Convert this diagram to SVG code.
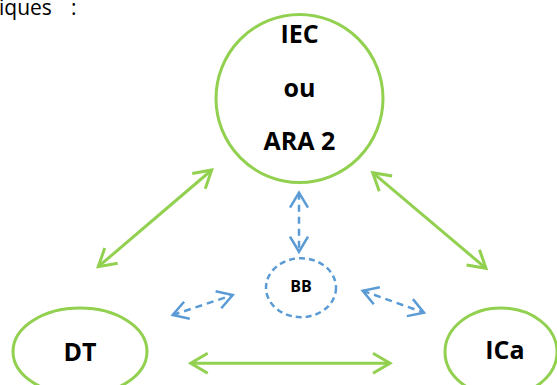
<svg xmlns="http://www.w3.org/2000/svg" width="557" height="385" viewBox="0 0 557 385">
<style>
.g{fill:none;stroke:#92D050;stroke-width:3}
.b{fill:none;stroke:#5B9BD5;stroke-width:2.5;stroke-dasharray:7 5}
.t{font-family:"Open Sans","Liberation Sans",sans-serif;font-weight:bold;font-size:25px;fill:#000;text-anchor:middle}
.s{font-family:"Open Sans","Liberation Sans",sans-serif;font-weight:bold;font-size:16px;fill:#000;text-anchor:middle}
</style>
<defs>
<marker id="ga" viewBox="-20 -12 24 24" markerWidth="24" markerHeight="24" refX="0" refY="0" markerUnits="userSpaceOnUse" orient="auto-start-reverse">
<path d="M-17,-10 L0,0 L-17,10" fill="none" stroke="#92D050" stroke-width="3"/>
</marker>
<marker id="ba" viewBox="-20 -12 24 24" markerWidth="24" markerHeight="24" refX="0" refY="0" markerUnits="userSpaceOnUse" orient="auto-start-reverse">
<path d="M-15,-9 L0,0 L-15,9" fill="none" stroke="#5B9BD5" stroke-width="2.5"/>
</marker>
</defs>
<text x="-1" y="15" font-family="'Open Sans','Liberation Sans',sans-serif" font-size="21" fill="#000">iques <tspan x="71">:</tspan></text>
<g id="iec">
<ellipse class="g" cx="299.5" cy="98.5" rx="83.5" ry="84"/>
<text class="t" x="299.5" y="43">IEC</text>
<text class="t" x="299.5" y="97">ou</text>
<text class="t" x="299.5" y="150">ARA 2</text>
</g>
<g id="dt">
<ellipse class="g" cx="80" cy="351.5" rx="67" ry="43.5"/>
<text class="t" x="80" y="360.5">DT</text>
</g>
<g id="ica">
<ellipse class="g" cx="501" cy="352" rx="56" ry="44"/>
<text class="t" x="505" y="359">ICa</text>
</g>
<g id="bb">
<ellipse class="b" cx="301" cy="287.7" rx="35" ry="29.5" style="stroke-dasharray:6 4"/>
<text class="s" x="301" y="291.5">BB</text>
</g>
<g id="connectors">
<line class="g" x1="211.7" y1="170" x2="98.3" y2="266.7" marker-start="url(#ga)" marker-end="url(#ga)"/>
<line class="g" x1="372.7" y1="172.7" x2="486" y2="268.3" marker-start="url(#ga)" marker-end="url(#ga)"/>
<line class="g" x1="190.7" y1="363.3" x2="390" y2="363.3" marker-start="url(#ga)" marker-end="url(#ga)"/>
<line class="b" x1="299" y1="192.7" x2="299" y2="251.7" marker-start="url(#ba)" marker-end="url(#ba)"/>
<line class="b" x1="172.7" y1="315" x2="232.7" y2="295" marker-start="url(#ba)" marker-end="url(#ba)"/>
<line class="b" x1="362.7" y1="290.7" x2="424" y2="312.7" marker-start="url(#ba)" marker-end="url(#ba)"/>
</g>
</svg>
